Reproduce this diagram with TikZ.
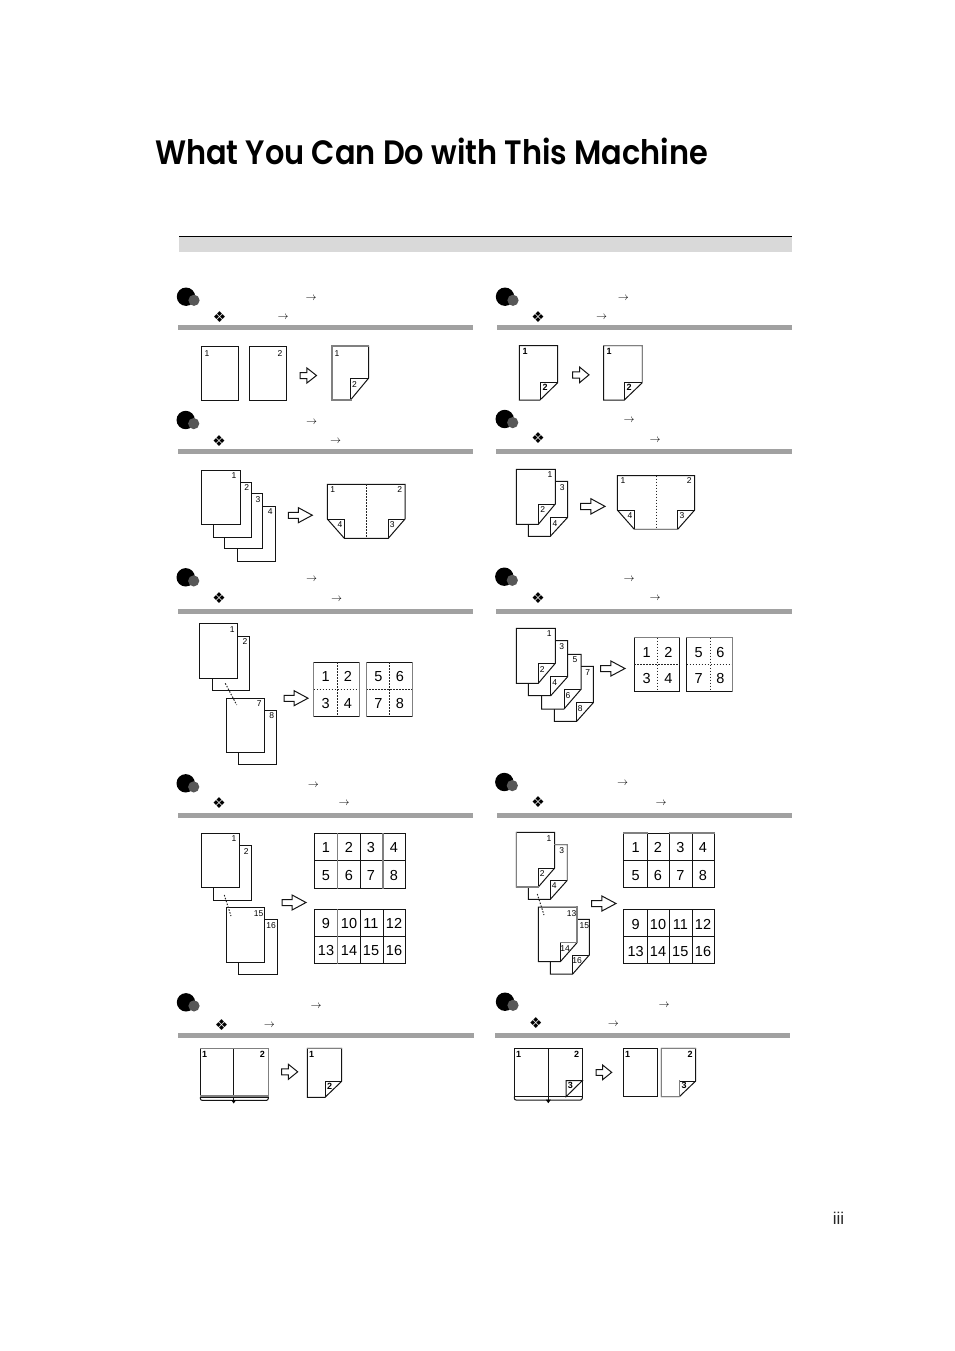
\documentclass[tikz,border=0pt]{standalone}
\usepackage{fontspec}
\usepackage{graphicx}
\setmainfont{Liberation Sans}
\newfontfamily\titlefont{Poppins SemiBold}
\newfontfamily\symfont{DejaVu Sans}
\newcounter{lab}
\tikzset{
  ln/.style={line width=1pt,draw=black!92,line join=miter},
  sheet/.style={ln,fill=white},
  dotline/.style={line width=1pt,draw=black!85,dash pattern=on 1.5pt off 1.5pt},
  rulebar/.style={fill=black!37,draw=none},
  txt/.style={inner sep=0pt,outer sep=0pt,anchor=center},
  bigball/.style={fill=black,draw=none},
  smallball/.style={fill=black!66,draw=none},
  greyedge/.style={line width=1.1pt,draw=black!50,line cap=rect},
}
% small page label
\newcommand\lab[3]{\stepcounter{lab}\node[txt,font=\fontsize{8.5}{9}\selectfont] (t\arabic{lab}) at (#1,#2) {#3};}
\newcommand\blab[3]{\stepcounter{lab}\node[txt,font=\fontsize{9}{9}\selectfont\bfseries] (t\arabic{lab}) at (#1,#2) {#3};}
% large grid number
\newcommand\num[3]{\stepcounter{lab}\node[txt,font=\fontsize{14.5}{15}\selectfont] (t\arabic{lab}) at (#1,#2+0.7) {#3};}
\newcommand\bull[2]{\fill[bigball] (#1,#2) circle (9.2); \fill[smallball] (#1+8,#2+3.6) circle (5.6);}
\newcommand\tarrow[2]{\stepcounter{lab}\node[txt,font=\fontsize{11}{11}\selectfont] (t\arabic{lab}) at (#1,#2) {$\rightarrow$};}
\newcommand\diam[2]{\stepcounter{lab}\node[txt,font=\symfont\fontsize{15}{15}\selectfont] (t\arabic{lab}) at (#1+0.5,#2) {❖};}
\newcommand\secbar[3]{\fill[rulebar] (#1,#3) rectangle (#2,#3+5);}
\newcommand\pgbox[4]{\draw[sheet] (#1,#2) rectangle (#3,#4);}
% foldbox x0 y0 x1 y1 fx fy
\newcommand\foldbox[6]{\draw[sheet] (#1,#2) -- (#3,#2) -- (#3,#6) -- (#5,#4) -- (#1,#4) -- cycle;
  \draw[ln] (#5,#4) -- (#5,#6) -- (#3,#6);}
% blockarrow x0 y0 x1 y1
\newcommand\blockarrow[4]{\draw[sheet,line join=miter,miter limit=3]
  (#1,{#2+0.31*(#4-#2)}) -- ({#1+0.42*(#3-#1)},{#2+0.31*(#4-#2)}) -- ({#1+0.42*(#3-#1)},#2) --
  (#3,{0.5*(#2+#4)}) -- ({#1+0.42*(#3-#1)},#4) -- ({#1+0.42*(#3-#1)},{#2+0.71*(#4-#2)}) --
  (#1,{#2+0.71*(#4-#2)}) -- cycle;}
% opened sheet: x0 y0 x1 y1 lx rx fy cx
\newcommand\opensheet[8]{\draw[sheet] (#1,#2) -- (#3,#2) -- (#3,#7) -- (#6,#4) -- (#5,#4) -- (#1,#7) -- cycle;
  \draw[ln] (#1,#7) -- (#5,#7) -- (#5,#4); \draw[ln] (#3,#7) -- (#6,#7) -- (#6,#4);
  \draw[dotline] (#8,#2) -- (#8,#4);}
% two by two dotted grid: x0 y0 x1 y1 cx cy
\newcommand\dotgrid[6]{\draw[sheet] (#1,#2) rectangle (#3,#4);
  \draw[dotline] (#5,#2) -- (#5,#4); \draw[dotline] (#1,#6) -- (#3,#6);}
% four by two solid grid: x0 x1 x2 x3 x4 y0 y1 y2
\newcommand\solidgrid[8]{\draw[sheet] (#1,#6) rectangle (#5,#8);
  \draw[ln] (#1,#7) -- (#5,#7); \draw[ln] (#2,#6) -- (#2,#8); \draw[ln] (#3,#6) -- (#3,#8); \draw[ln] (#4,#6) -- (#4,#8);}
% open book: x0 y0 x1 y1 sx
\newcommand\bookbox[5]{\draw[sheet] (#1,#2) rectangle (#3,#4);
  \draw[ln] (#5,#2) -- (#5,#4+3);
  \draw[ln,rounded corners=2pt] (#1,#4) -- (#1,#4+3.4) -- (#3,#4+3.4) -- (#3,#4);
  \fill[black] (#5-2.5,#4+3) -- (#5+2.5,#4+3) -- (#5,#4+6.5) -- cycle;}
\begin{document}
\begin{tikzpicture}[x=1pt,y=-1pt]
\useasboundingbox (0,0) rectangle (954,1351);
\fill[white] (0,0) rectangle (954,1351);
% title
\node[txt,anchor=south west] (title) at (155,165.2) {\resizebox{553pt}{26.5pt}{\titlefont What You Can Do with This Machine}};
% top band
\fill[black!15] (179,236.5) rectangle (792,252);
\draw[black,line width=1.3pt] (179,236.6) -- (792,236.6);
\node[txt,font=\fontsize{17}{17}\selectfont,text=black!85] (pageno) at (838.5,1218.5) {iii};

% ---------- row 1 left
\bull{186}{296.7}\tarrow{311}{298}\diam{219}{317}\tarrow{283}{317}\secbar{178}{473}{325.3}
\pgbox{201.3}{346.5}{238.5}{400.5}\pgbox{249.3}{346.5}{286.5}{400.5}
\foldbox{332}{346}{368.5}{400}{350.5}{378.3}
\draw[greyedge] (351,400) -- (332,400) -- (332,346) -- (368.5,346);
\blockarrow{300}{368}{316.5}{383}
\lab{207}{354}{1}\lab{280}{354}{2}\lab{337}{354}{1}\lab{354.5}{385}{2}
% ---------- row 1 right
\bull{505}{296.7}\tarrow{623.3}{298}\diam{537.7}{317}\tarrow{601.7}{317.5}\secbar{496.5}{792}{325.3}
\foldbox{519.3}{345.7}{557.7}{400}{540}{382.7}
\foldbox{603.7}{345.7}{642.3}{400}{624.3}{382.7}
\draw[greyedge] (642.3,382.7) -- (642.3,345.7) -- (603.7,345.7);
\blockarrow{572.7}{367}{589}{382.7}
\blab{525}{351.7}{1}\blab{545}{387}{2}\blab{609}{351.7}{1}\blab{629}{387}{2}

% ---------- row 2 left
\bull{185.7}{420}\tarrow{311.7}{422}\diam{218.7}{440.7}\tarrow{335.7}{441}\secbar{178}{473}{449.3}
\pgbox{237.7}{506.7}{275.7}{561.5}\pgbox{224.3}{493.3}{262.7}{548.3}\pgbox{213.3}{482}{251.7}{537.3}\pgbox{201.3}{470.7}{240}{524.7}
\lab{234}{476}{1}\lab{246.7}{487.7}{2}\lab{258}{499.7}{3}\lab{270.3}{512}{4}
\blockarrow{288.3}{507.7}{312.3}{522.7}
\opensheet{327.3}{484.3}{405}{538.3}{344.3}{388.3}{519}{366.7}
\lab{332.7}{490}{1}\lab{399.7}{490}{2}\lab{340}{525}{4}\lab{392.3}{525}{3}
% ---------- row 2 right
\bull{504.7}{419}\tarrow{629}{420.7}\diam{537.7}{437.7}\tarrow{655}{440}\secbar{496}{791.5}{449.3}
\foldbox{528.3}{481.3}{567.7}{536.3}{550.3}{517.3}
\foldbox{516.3}{469.3}{555.3}{524.3}{538.3}{504}
\lab{550}{475}{1}\lab{542.7}{510}{2}\lab{562.3}{487.3}{3}\lab{555}{523.3}{4}
\blockarrow{580.7}{498.7}{605}{514}
\opensheet{617.3}{475.7}{694.7}{529.3}{634.3}{677.7}{510}{656}
\draw[greyedge] (634.3,529.3) -- (677.7,529.3);
\lab{623}{481}{1}\lab{689.3}{481}{2}\lab{630}{516}{4}\lab{682}{516}{3}

% ---------- row 3 left
\bull{185.7}{577.3}\tarrow{311.7}{579.3}\diam{218.7}{598.3}\tarrow{336.7}{599}\secbar{178}{473}{609.2}
\pgbox{212.3}{636.3}{249.7}{690.3}\pgbox{199.3}{623.3}{237.7}{678.3}
\pgbox{238.3}{710.3}{276.7}{764.3}\pgbox{226.3}{698.3}{264.7}{752.3}
\draw[dotline] (225.3,683.3) -- (236.7,705);
\lab{232.3}{629.3}{1}\lab{245}{642}{2}\lab{259.3}{703.7}{7}\lab{271.7}{716}{8}
\blockarrow{284}{690.7}{308}{705.7}
\dotgrid{313.7}{662.3}{359.7}{716}{337.3}{689.3}
\dotgrid{366.3}{662.3}{412.3}{716}{389.7}{689.3}
\draw[greyedge] (313.7,662.3) -- (313.7,716); \draw[greyedge] (359.7,662.3) -- (359.7,716);
\draw[greyedge] (366.3,662.3) -- (366.3,716); \draw[greyedge] (412.3,662.3) -- (412.3,716);
\num{325.7}{676}{1}\num{348}{676}{2}\num{325.7}{703.3}{3}\num{348}{703.3}{4}
\num{378.3}{676}{5}\num{400}{676}{6}\num{378.3}{703.3}{7}\num{400}{703.3}{8}
% ---------- row 3 right
\bull{504.3}{576.7}\tarrow{629}{579.3}\diam{537.7}{597.7}\tarrow{655}{598.3}\secbar{496}{791.5}{609.2}
\foldbox{554.3}{666.3}{593.3}{721.3}{576.7}{702.7}
\foldbox{541.7}{654.3}{581}{709}{564}{689.3}
\foldbox{528.3}{640.7}{567.7}{695.7}{550.7}{676.7}
\foldbox{516.3}{628.3}{555.3}{683.3}{538.3}{663.3}
\lab{549.3}{634}{1}\lab{542.3}{670}{2}\lab{561.7}{646.7}{3}\lab{554.7}{682.3}{4}
\lab{575}{660}{5}\lab{568}{695.7}{6}\lab{587.7}{672.3}{7}\lab{580.3}{708.3}{8}
\blockarrow{600.7}{661}{625}{676}
\dotgrid{634.3}{637.7}{679.7}{691.3}{657.3}{664.3}
\dotgrid{686.7}{637.7}{732.3}{691.3}{710.3}{664.3}
\draw[greyedge] (634.3,637.7) -- (679.7,637.7); \draw[greyedge] (686.7,637.7) -- (732.3,637.7) -- (732.3,691.3);
\num{646.7}{651.7}{1}\num{668.3}{651.7}{2}\num{646.7}{678}{3}\num{668.3}{678}{4}
\num{698.7}{651.7}{5}\num{720.3}{651.7}{6}\num{698.7}{678}{7}\num{720.3}{678}{8}

% ---------- row 4 left
\bull{185.7}{783.3}\tarrow{313.3}{785}\diam{218.7}{803.3}\tarrow{344}{803.3}\secbar{178}{473}{813}
\pgbox{213.3}{845.3}{251.7}{900.3}\pgbox{201.3}{833.3}{239.7}{887.3}
\pgbox{238.3}{919.3}{277.3}{974.3}\pgbox{226.3}{907.3}{264.7}{962.3}
\draw[dotline] (224.3,895) -- (231,916);
\lab{234}{839}{1}\lab{246.3}{851.7}{2}\lab{258.7}{913.3}{15}\lab{271}{925.3}{16}
\blockarrow{282}{895}{306}{910}
\solidgrid{314.3}{337.7}{360.3}{383}{405.7}{833.3}{860.7}{888}
\solidgrid{314.3}{337.7}{360.3}{383}{405.7}{909.3}{936}{963.3}
\draw[greyedge] (337.7,833.3) -- (337.7,888); \draw[greyedge] (337.7,909.3) -- (337.7,963.3);
\draw[greyedge] (383,833.3) -- (383,888);
\num{326}{847}{1}\num{349}{847}{2}\num{371}{847}{3}\num{394}{847}{4}
\num{326}{874.7}{5}\num{349}{874.7}{6}\num{371}{874.7}{7}\num{394}{874.7}{8}
\num{326}{923}{9}\num{349}{923}{10}\num{371}{923}{11}\num{394}{923}{12}
\num{326}{950}{13}\num{349}{950}{14}\num{371}{950}{15}\num{394}{950}{16}
% ---------- row 4 right
\bull{504.3}{782}\tarrow{622.7}{783.3}\diam{537.7}{802}\tarrow{661}{803.3}\secbar{496.5}{792}{812.7}
\foldbox{528.3}{844.7}{567.3}{899.3}{550.3}{880.3}
\foldbox{516.3}{832.3}{554.7}{887}{538.3}{868}
\foldbox{550.3}{919.3}{589.3}{974}{572.7}{955}
\foldbox{538.3}{907}{577}{961.7}{560.3}{942.7}
\draw[greyedge] (528.3,844.7) ++(26.4,0) -- (567.3,844.7) -- (567.3,880.3);
\draw[greyedge] (516.3,832.3) -- (516.3,887) -- (538.3,887);
\draw[greyedge] (577,907) -- (577,942.7) -- (560.3,942.7);
\draw[dotline] (537.3,894) -- (544,915);
\lab{549}{838.3}{1}\lab{542.3}{873.7}{2}\lab{561.7}{851}{3}\lab{554.3}{885.7}{4}
\lab{571.7}{913.3}{13}\lab{565}{948.3}{14}\lab{584.3}{925.7}{15}\lab{577}{960.7}{16}
\blockarrow{591.7}{896}{616}{911}
\solidgrid{623.7}{647.3}{669.7}{692.3}{714.7}{833}{860}{887.3}
\solidgrid{623.7}{647.3}{669.7}{692.3}{714.7}{909.7}{936.7}{963.7}
\draw[greyedge] (623.7,833) -- (647.3,833); \draw[greyedge] (669.7,833) -- (714.7,833);
\num{635.7}{847}{1}\num{658}{847}{2}\num{680.3}{847}{3}\num{703}{847}{4}
\num{635.7}{874.7}{5}\num{658}{874.7}{6}\num{680.3}{874.7}{7}\num{703}{874.7}{8}
\num{635.7}{923.7}{9}\num{658}{923.7}{10}\num{680.3}{923.7}{11}\num{703}{923.7}{12}
\num{635.7}{951}{13}\num{658}{951}{14}\num{680.3}{951}{15}\num{703}{951}{16}

% ---------- row 5 left
\bull{186}{1002.3}\tarrow{316}{1006}\diam{221}{1025}\tarrow{269.3}{1025.7}\secbar{178}{473.5}{1033}
\bookbox{200.3}{1048.3}{268.3}{1097}{233.7}
\draw[greyedge,line width=2pt] (201,1096.2) -- (267.6,1096.2);
\draw[greyedge] (200.3,1048.3) -- (268.3,1048.3) -- (268.3,1096);
\blockarrow{281.7}{1064.3}{297.7}{1079.3}
\foldbox{307.3}{1048.3}{341.7}{1097.3}{325}{1081.3}
\draw[greyedge] (307.3,1048.3) -- (341.7,1048.3);
\blab{204.7}{1054}{1}\blab{262.3}{1054}{2}\blab{311.7}{1054}{1}\blab{329.7}{1086.3}{2}
% ---------- row 5 right
\bull{505}{1001.7}\tarrow{664}{1005}\diam{535.3}{1023.3}\tarrow{613.3}{1024}\secbar{494.5}{789.5}{1033}
\bookbox{514.3}{1048.3}{582.3}{1096.7}{548.3}
\draw[ln] (566,1096.7) -- (566,1080.7) -- (582.3,1080.7) -- cycle;
\blockarrow{596}{1065}{611.7}{1079.7}
\pgbox{623.3}{1048.3}{657.7}{1096.7}
\foldbox{661.3}{1048.3}{695.7}{1096.7}{679.3}{1081}
\draw[greyedge] (679.3,1096.7) -- (661.3,1096.7) -- (661.3,1048.3) -- (695.7,1048.3);
\draw[greyedge] (679.3,1096.7) -- (679.3,1081);
\blab{518.7}{1054}{1}\blab{576.7}{1054}{2}\blab{570.3}{1085.7}{3}
\blab{627.7}{1054}{1}\blab{690}{1054}{2}\blab{684}{1085.7}{3}
\end{tikzpicture}
\end{document}
